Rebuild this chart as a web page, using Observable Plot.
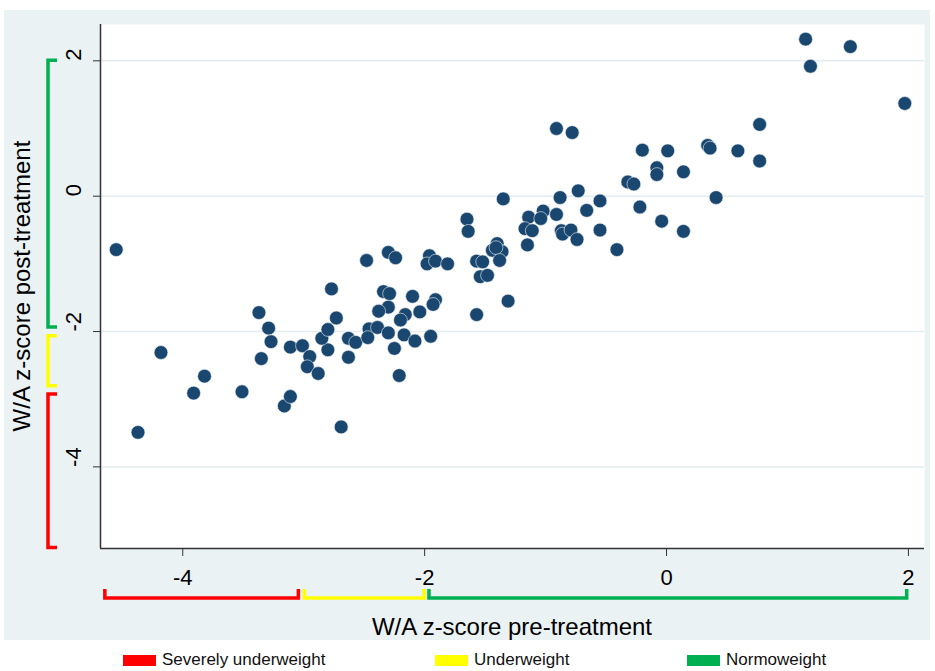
<!DOCTYPE html>
<html><head><meta charset="utf-8">
<script src="https://cdn.jsdelivr.net/npm/d3@7"></script>
<script src="https://cdn.jsdelivr.net/npm/@observablehq/plot@0.6"></script>
<style>
html,body{margin:0;padding:0;background:#fff;}
body{width:935px;height:671px;position:relative;overflow:hidden;font-family:"Liberation Sans",Arial,sans-serif;}
#panel{position:absolute;left:4px;top:10px;width:926px;height:630px;background:#eaf2f3;}
#panel svg{overflow:visible;}
#legend{position:absolute;left:0;top:650px;width:935px;height:20px;}
.item{position:absolute;top:0;height:20px;display:flex;align-items:center;font-size:17px;color:#111;white-space:nowrap;}
.sw{width:33px;height:11px;margin-right:6px;}
</style></head><body>
<div id="panel"></div><div id="legend"></div>
<script>
// W/A z-score pre-treatment (x) and post-treatment (y)
const preScore = [
-4.55,-4.37,-4.18,-3.91,-3.82,-3.51,-3.37,-3.29,-3.27,-3.35,
-3.16,-3.11,-3.11,-3.01,-2.95,-2.97,-2.88,-2.80,-2.85,-2.80,
-2.73,-2.77,-2.69,-2.63,-2.57,-2.63,-2.46,-2.47,-2.48,-2.39,
-2.30,-2.24,-2.34,-2.29,-2.30,-2.38,-2.30,-2.25,-2.16,-2.20,
-2.17,-2.08,-2.10,-2.04,-1.95,-1.96,-1.98,-1.91,-1.81,-1.91,
-1.93,-2.21,-1.65,-1.64,-1.57,-1.52,-1.54,-1.48,-1.57,-1.31,
-1.35,-1.40,-1.44,-1.36,-1.41,-1.38,-1.14,-1.17,-1.11,-1.15,
-1.02,-1.04,-0.91,-0.88,-0.73,-0.66,-0.55,-0.87,-0.86,-0.79,
-0.74,-0.55,-0.41,-0.91,-0.78,-0.22,-0.04,0.14,-0.32,-0.27,
-0.20,0.01,-0.08,-0.08,0.14,0.34,0.36,0.59,0.41,0.77,
0.77,1.15,1.52,1.19,1.97];
const postScore = [
-0.79,-3.49,-2.31,-2.91,-2.66,-2.89,-1.72,-1.95,-2.15,-2.40,
-3.10,-2.96,-2.23,-2.21,-2.37,-2.52,-2.62,-2.27,-2.10,-1.97,
-1.80,-1.37,-3.41,-2.10,-2.16,-2.38,-1.96,-2.09,-0.95,-1.94,
-0.83,-0.91,-1.41,-1.44,-1.64,-1.70,-2.02,-2.25,-1.75,-1.83,
-2.05,-2.14,-1.48,-1.71,-2.07,-0.88,-1.00,-0.96,-1.00,-1.53,
-1.60,-2.65,-0.34,-0.52,-0.96,-0.97,-1.19,-1.17,-1.75,-1.55,
-0.04,-0.70,-0.80,-0.82,-0.76,-0.95,-0.31,-0.48,-0.51,-0.72,
-0.22,-0.33,-0.27,-0.02,0.08,-0.21,-0.07,-0.51,-0.56,-0.50,
-0.64,-0.50,-0.79,1.00,0.94,-0.16,-0.37,-0.52,0.21,0.18,
0.68,0.67,0.42,0.32,0.36,0.75,0.71,0.67,-0.02,1.06,
0.52,2.32,2.21,1.92,1.37];
const xTicks = [-4, -2, 0, 2];
const yTicks = [-4, -2, 0, 2];
const xTitle = "W/A z-score pre-treatment";
const yTitle = "W/A z-score post-treatment";
const categories = ["Severely underweight", "Underweight", "Normoweight"];
const categoryColors = ["#ff0000", "#ffff00", "#00b050"];
const xBracketLow  = [-4.64, -2.99, -1.96];
const xBracketHigh = [-3.04, -2.00, 1.99];
const yBracketLow  = [-5.20, -2.81, -1.94];
const yBracketHigh = [-2.93, -2.07, 2.00];

const points = preScore.map((x, i) => ({x, y: postScore[i]}));
const xDomain = [-4.68, 2.133];
const yDomain = [-5.206, 2.537];
const W = 926, H = 630;
const font = "'Liberation Sans', Arial, sans-serif";

const plot = Plot.plot({
  width: W, height: H,
  marginLeft: 96, marginRight: 6, marginTop: 14, marginBottom: 92,
  style: {background: "transparent", fontFamily: font, color: "#000"},
  x: {domain: xDomain},
  y: {domain: yDomain},
  marks: [
    Plot.frame({fill: "white", stroke: "none"}),
    Plot.gridY({ticks: yTicks, stroke: "#e3ecef", strokeOpacity: 1, strokeWidth: 1.5}),
    Plot.dot(points, {x: "x", y: "y", r: 6.9, fill: "#1a476f", stroke: "#eef3f6", strokeWidth: 0.6}),
    Plot.ruleX([xDomain[0]], {stroke: "#333", strokeWidth: 1.5}),
    Plot.ruleY([yDomain[0]], {stroke: "#333", strokeWidth: 1.5}),
    Plot.axisX({ticks: xTicks, tickSize: 8, tickPadding: 13, tickFormat: d => String(d), fontSize: 22, label: null, stroke: "#333"}),
    Plot.axisY({ticks: yTicks, tickSize: 7, tickFormat: () => "", label: null, stroke: "#333"}),
    Plot.text(yTicks, {y: d => d, text: d => String(d), frameAnchor: "left", rotate: -90, dx: -27, fontSize: 22, fill: "#000"})
  ]
});
document.getElementById("panel").appendChild(plot);

const sx = plot.scale("x"), sy = plot.scale("y");
const svg = d3.select(plot);
const left = 96, bottom = H - 92;

// axis titles
svg.append("text").attr("x", (left + W - 6) / 2).attr("y", 625)
  .attr("text-anchor", "middle").attr("font-size", 24).attr("font-family", font).attr("fill", "#000")
  .text(xTitle);
svg.append("text").attr("transform", `translate(26,${(14 + bottom) / 2}) rotate(-90)`)
  .attr("text-anchor", "middle").attr("font-size", 24).attr("font-family", font).attr("fill", "#000")
  .text(yTitle);

// category brackets
const bx = bottom + 50, bxTick = bottom + 41;
categories.forEach((c, i) => {
  const x1 = sx.apply(xBracketLow[i]), x2 = sx.apply(xBracketHigh[i]);
  svg.append("path").attr("d", `M${x1},${bxTick}V${bx}H${x2}V${bxTick}`)
    .attr("fill", "none").attr("stroke", categoryColors[i]).attr("stroke-width", 3.5);
  const y1 = sy.apply(yBracketHigh[i]), y2 = sy.apply(yBracketLow[i]);
  svg.append("path").attr("d", `M53,${y1}H44V${y2}H53`)
    .attr("fill", "none").attr("stroke", categoryColors[i]).attr("stroke-width", 3.5);
});

// legend
const legendLeft = [123, 435, 687];
const legend = document.getElementById("legend");
categories.forEach((c, i) => {
  const it = document.createElement("div");
  it.className = "item";
  it.style.left = legendLeft[i] + "px";
  it.innerHTML = `<div class="sw" style="background:${categoryColors[i]}"></div><span>${c}</span>`;
  legend.appendChild(it);
});
</script>
</body></html>
